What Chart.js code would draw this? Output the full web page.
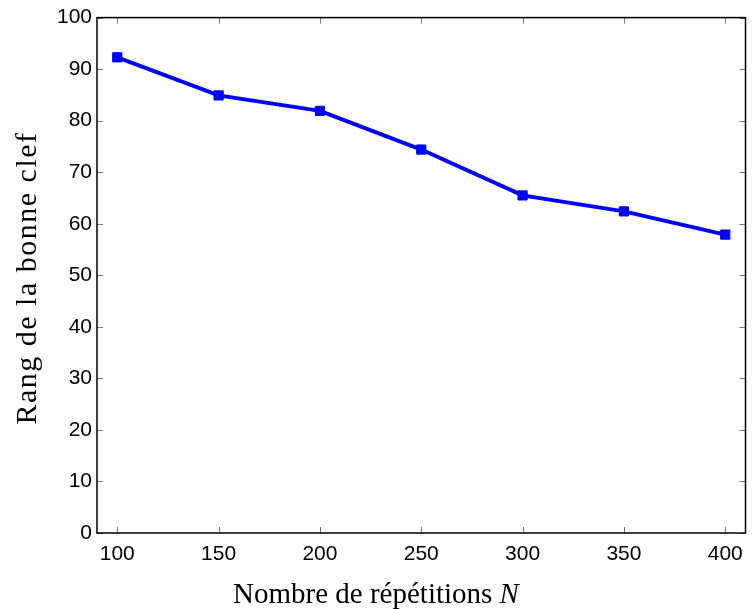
<!DOCTYPE html>
<html>
<head>
<meta charset="utf-8">
<script src="https://cdn.jsdelivr.net/npm/chart.js@4/dist/chart.umd.min.js"></script>
<style>
  body { margin: 0; background: #fff; }
  canvas { display: block; }
</style>
</head>
<body>
<canvas id="myChart" width="753" height="609"></canvas>
<script>
'use strict';
// data
let repetitions = [100, 150, 200, 250, 300, 350, 400];
let rangs = [92.3, 84.9, 81.9, 74.4, 65.5, 62.4, 57.9];
let xTicks = [100, 150, 200, 250, 300, 350, 400];
let yTicks = [0, 10, 20, 30, 40, 50, 60, 70, 80, 90, 100];
let xTitle = 'Nombre de répétitions ';
let xTitleVar = 'N';
let yTitle = 'Rang de la bonne clef';

let serif = '"Liberation Serif", "DejaVu Serif", serif';

// frame, inward ticks on all four sides, axis titles
let framePlugin = {
    id: 'frame',
    afterDatasetsDraw(chart) {
        let ctx = chart.ctx;
        let a = chart.chartArea;
        let xs = chart.scales.x;
        let ys = chart.scales.y;
        ctx.save();
        ctx.strokeStyle = '#777';
        ctx.lineWidth = 1;
        ctx.beginPath();
        xTicks.forEach(v => {
            let px = Math.round(xs.getPixelForValue(v)) + 0.5;
            ctx.moveTo(px, a.bottom); ctx.lineTo(px, a.bottom - 6);
            ctx.moveTo(px, a.top); ctx.lineTo(px, a.top + 6);
        });
        yTicks.forEach(v => {
            let py = Math.round(ys.getPixelForValue(v)) + 0.5;
            ctx.moveTo(a.left, py); ctx.lineTo(a.left + 6, py);
            ctx.moveTo(a.right, py); ctx.lineTo(a.right - 6, py);
        });
        ctx.stroke();
        ctx.strokeStyle = '#000';
        ctx.lineWidth = 1.5;
        ctx.strokeRect(a.left, a.top, a.right - a.left, a.bottom - a.top);

        // x title (N in italic)
        ctx.fillStyle = '#000';
        ctx.textBaseline = 'alphabetic';
        ctx.textAlign = 'left';
        ctx.font = '29px ' + serif;
        let w1 = ctx.measureText(xTitle).width;
        ctx.font = 'italic 29px ' + serif;
        let w2 = ctx.measureText(xTitleVar).width;
        let x0 = 376 - (w1 + w2) / 2;
        ctx.font = '29px ' + serif;
        ctx.fillText(xTitle, x0, 603);
        ctx.font = 'italic 29px ' + serif;
        ctx.fillText(xTitleVar, x0 + w1, 603);

        // y title (LaTeX spacing is wider, so stretch a bit)
        ctx.translate(36, 278);
        ctx.rotate(-Math.PI / 2);
        ctx.textAlign = 'center';
        ctx.font = '30px ' + serif;
        ctx.letterSpacing = '1.5px';
        ctx.fillText(yTitle, 0, 0);
        ctx.restore();
    }
};

let ctx = document.getElementById('myChart').getContext('2d');
let myChart = new Chart(ctx, {
    type: 'line',
    data: {
        datasets: [{
            data: repetitions.map((r, i) => ({ x: r, y: rangs[i] })),
            borderColor: '#0000ff',
            backgroundColor: '#0000ff',
            borderWidth: 4,
            pointStyle: 'rect',
            pointRadius: 6.5,
            pointBorderWidth: 1,
            pointBorderColor: '#0000ff',
            pointBackgroundColor: '#0000ff',
            tension: 0,
            fill: false
        }]
    },
    options: {
        responsive: false,
        devicePixelRatio: 1,
        animation: false,
        layout: { padding: { top: 17, right: 2, left: 0, bottom: 0 } },
        plugins: {
            legend: { display: false },
            tooltip: { enabled: false }
        },
        scales: {
            x: {
                type: 'linear',
                min: 90,
                max: 410,
                afterBuildTicks: scale => { scale.ticks = xTicks.map(v => ({ value: v })); },
                afterFit: scale => { scale.height = 76; },
                grid: { display: false, drawTicks: false },
                border: { display: false },
                ticks: {
                    padding: 9,
                    color: '#000',
                    font: { family: '"Liberation Sans", Arial, sans-serif', size: 21 }
                }
            },
            y: {
                type: 'linear',
                min: 0,
                max: 100,
                afterBuildTicks: scale => { scale.ticks = yTicks.map(v => ({ value: v })); },
                afterFit: scale => { scale.width = 97; },
                grid: { display: false, drawTicks: false },
                border: { display: false },
                ticks: {
                    padding: 5,
                    color: '#000',
                    font: { family: '"Liberation Sans", Arial, sans-serif', size: 21 }
                }
            }
        }
    },
    plugins: [framePlugin]
});
</script>
</body>
</html>
